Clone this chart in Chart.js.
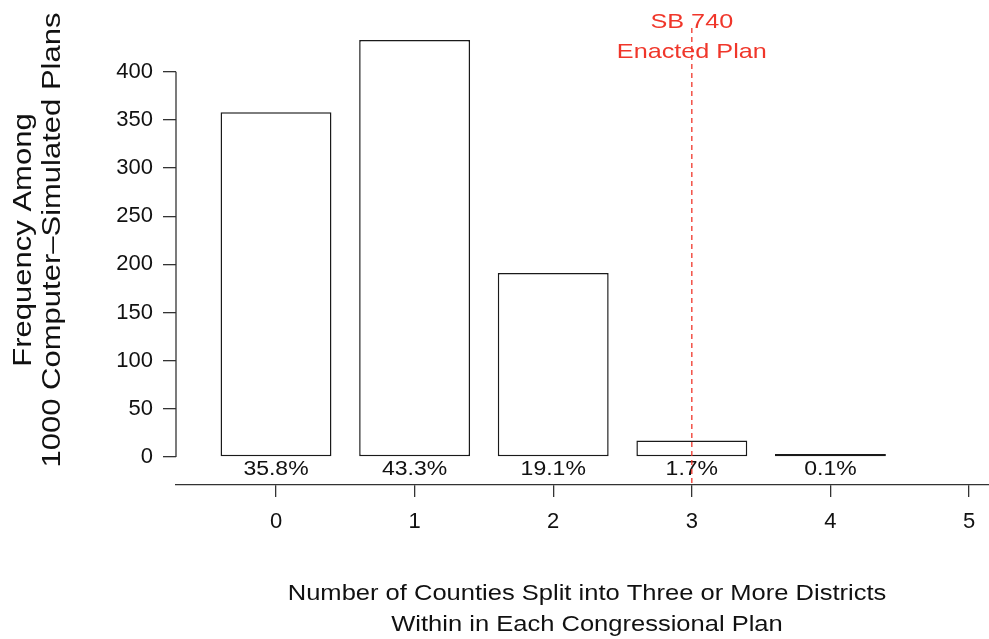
<!DOCTYPE html>
<html>
<head>
<meta charset="utf-8">
<script src="https://cdn.jsdelivr.net/npm/chart.js@4"></script>
<style>
    html, body { margin: 0; padding: 0; background: #fff; }
    #wrap { width: 989px; height: 639px; }
</style>
</head>
<body>
<div id="wrap"><canvas id="barChart"></canvas></div>
<script>
// data
const counts = [0, 1, 2, 3, 4];
const frequencies = [358, 433, 191, 17, 1];
const percentLabels = ['35.8%', '43.3%', '19.1%', '1.7%', '0.1%'];
const xTicks = [0, 1, 2, 3, 4, 5];
const yTicks = [0, 50, 100, 150, 200, 250, 300, 350, 400];
const enactedValue = 3;
const enactedLabel = ['SB 740', 'Enacted Plan'];
const yTitle = ['Frequency Among', '1000 Computer\u2013Simulated Plans'];
const xTitle = ['Number of Counties Split into Three or More Districts', 'Within in Each Congressional Plan'];

const FONT = '"Liberation Sans", Helvetica, Arial, sans-serif';
const RED = '#f0362a';

// text in the reference is a bit wider than Liberation Sans, so stretch it
function wideText(ctx, text, x, y, sx) {
    ctx.save();
    ctx.translate(x, y);
    ctx.scale(sx, 1);
    ctx.fillText(text, 0, 0);
    ctx.restore();
}

// extra drawing: axis line, percentages, enacted marker, titles
const annotate = {
    id: 'annotate',
    afterDatasetsDraw(chart) {
        const { ctx, chartArea, scales: { x, y } } = chart;
        ctx.save();

        // R style y axis line (only from 0 to 400)
        ctx.strokeStyle = '#333';
        ctx.lineWidth = 1.3;
        ctx.beginPath();
        ctx.moveTo(chartArea.left, y.getPixelForValue(yTicks[0]));
        ctx.lineTo(chartArea.left, y.getPixelForValue(yTicks[yTicks.length - 1]));
        ctx.stroke();

        // percent labels under each bar
        ctx.fillStyle = '#111';
        ctx.font = '20px ' + FONT;
        ctx.textAlign = 'center';
        ctx.textBaseline = 'middle';
        counts.forEach((c, i) => {
            wideText(ctx, percentLabels[i], x.getPixelForValue(c), y.getPixelForValue(0) + 13, 1.15);
        });

        // enacted plan dashed line
        const ex = x.getPixelForValue(enactedValue);
        ctx.strokeStyle = RED;
        ctx.lineWidth = 1.3;
        ctx.setLineDash([5, 4]);
        ctx.beginPath();
        ctx.moveTo(ex, 28);
        ctx.lineTo(ex, chartArea.bottom);
        ctx.stroke();
        ctx.setLineDash([]);

        ctx.fillStyle = RED;
        ctx.font = '21px ' + FONT;
        wideText(ctx, enactedLabel[0], ex, 22, 1.2);
        wideText(ctx, enactedLabel[1], ex, 52, 1.2);

        // axis titles
        ctx.fillStyle = '#111';
        ctx.font = '22px ' + FONT;
        wideText(ctx, xTitle[0], 587, 594, 1.16);
        wideText(ctx, xTitle[1], 587, 625, 1.16);

        ctx.save();
        ctx.translate(0, 240);
        ctx.rotate(-Math.PI / 2);
        ctx.font = '25px ' + FONT;
        wideText(ctx, yTitle[0], 0, 24, 1.24);
        wideText(ctx, yTitle[1], 0, 53, 1.24);
        ctx.restore();

        ctx.restore();
    }
};

new Chart(document.getElementById('barChart'), {
    type: 'bar',
    data: {
        datasets: [{
            data: counts.map((c, i) => ({ x: c, y: frequencies[i] })),
            backgroundColor: '#fff',
            borderColor: '#1a1a1a',
            borderWidth: 1.5,
            borderSkipped: false,
            minBarLength: 3,
            categoryPercentage: 0.8,
            barPercentage: 1.0
        }]
    },
    options: {
        responsive: true,
        maintainAspectRatio: false,
        animation: false,
        layout: { padding: 0 },
        plugins: { legend: { display: false }, tooltip: { enabled: false } },
        scales: {
            x: {
                type: 'linear',
                offset: false,
                min: -0.7215,
                max: 5.144,
                afterFit: s => { s.height = 154; },
                afterBuildTicks: s => { s.ticks = xTicks.map(v => ({ value: v })); },
                grid: { offset: false, drawOnChartArea: false, drawTicks: true, tickLength: 12, color: '#333', lineWidth: 1.3 },
                border: { display: true, color: '#333', width: 1.3 },
                ticks: { color: '#111', font: { family: FONT, size: 22 }, padding: 12, maxRotation: 0 }
            },
            y: {
                min: -29.2,
                max: 450.5,
                afterFit: s => { s.width = 176; },
                afterBuildTicks: s => { s.ticks = yTicks.map(v => ({ value: v })); },
                grid: { drawOnChartArea: false, drawTicks: true, tickLength: 13, color: '#333', lineWidth: 1.3 },
                border: { display: false },
                ticks: { color: '#111', font: { family: FONT, size: 22 }, padding: 10 }
            }
        }
    },
    plugins: [annotate]
});
</script>
</body>
</html>
